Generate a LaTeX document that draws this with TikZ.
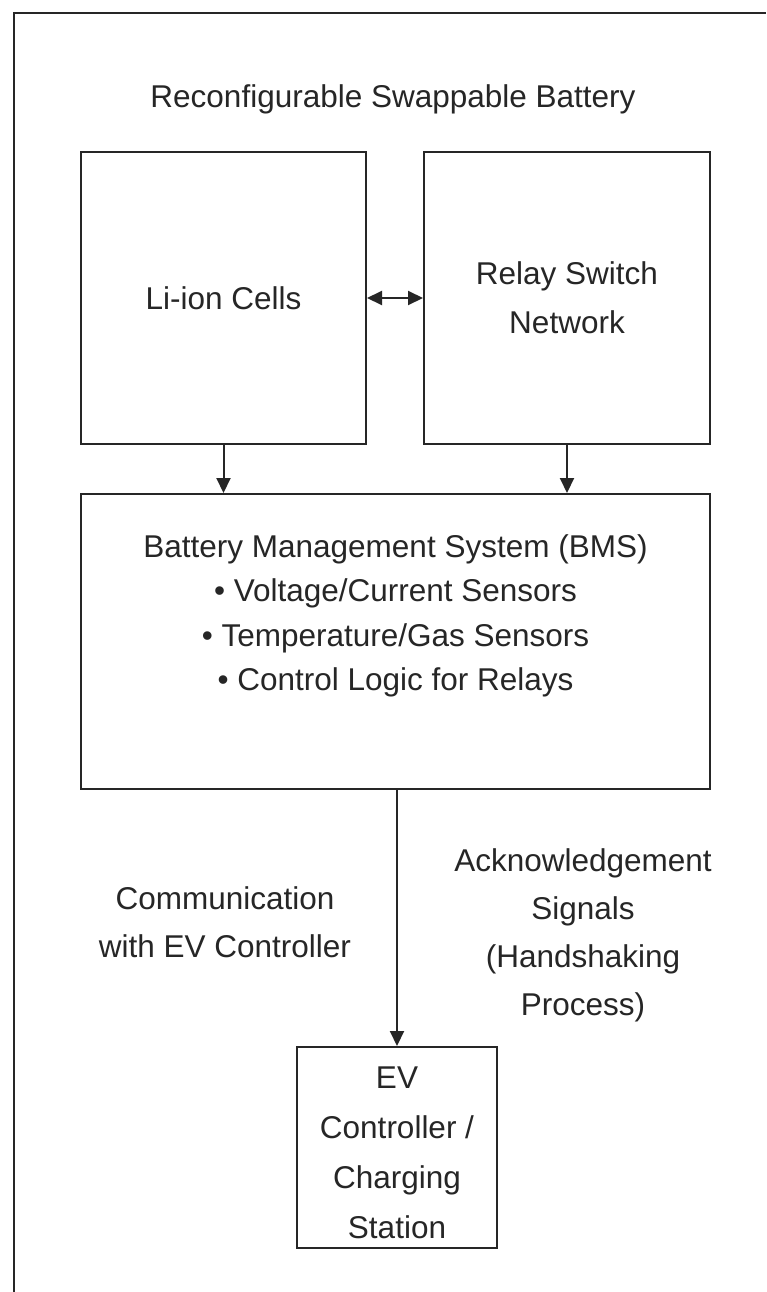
\documentclass[tikz,border=0pt]{standalone}
\usepackage{fontspec}
\setmainfont{Liberation Sans}
\usetikzlibrary{arrows.meta}
\definecolor{ink}{HTML}{262626}
\tikzset{
  boxnode/.style={draw=ink, line width=2pt, inner sep=0pt, align=center, text=ink,
    font=\fontsize{31.5}{49}\selectfont},
  txt/.style={align=center, text=ink, inner sep=0pt, font=\fontsize{31.5}{48}\selectfont},
  arr/.style={draw=ink, line width=2pt, -{Triangle[length=15pt,width=14pt]}},
  darr/.style={draw=ink, line width=2pt, {Triangle[length=15pt,width=14pt]}-{Triangle[length=15pt,width=14pt]}}
}
\begin{document}
\begin{tikzpicture}[x=1pt,y=-1pt]
\useasboundingbox (0,0) rectangle (766,1292);
\fill[white] (0,0) rectangle (766,1292);
\draw[ink, line width=2pt] (14,1292) -- (14,13) -- (766,13);

\node[txt] (title) at (393,99) {Reconfigurable Swappable Battery};

\node[boxnode, minimum width=285pt, minimum height=292pt] (cells) at (223.5,298) {Li-ion Cells};
\node[boxnode, minimum width=286pt, minimum height=292pt] (relay) at (567,298) {Relay Switch\\Network};
\node[boxnode, minimum width=629pt, minimum height=295pt] (bms) at (395.5,641.5) {};
\node[txt, font=\fontsize{31.5}{44.5}\selectfont] (bmstxt) at (395.5,616) {Battery Management System (BMS)\\• Voltage/Current Sensors\\• Temperature/Gas Sensors\\• Control Logic for Relays};
\node[boxnode, minimum width=200pt, minimum height=201pt] (ev) at (397,1147.5) {};
\node[txt, font=\fontsize{31.5}{50}\selectfont] (evtxt) at (397,1153) {EV\\Controller /\\Charging\\Station};

\node[txt] (comm) at (225,922) {Communication\\with EV Controller};
\node[txt] (ack) at (583,935) {Acknowledgement\\Signals\\(Handshaking\\Process)};

\draw[darr] (cells.east) -- (relay.west);
\draw[arr] (cells.south) -- (cells.south |- bms.north);
\draw[arr] (relay.south) -- (relay.south |- bms.north);
\draw[arr] (bms.south -| ev.north) -- (ev.north);
\end{tikzpicture}
\end{document}
